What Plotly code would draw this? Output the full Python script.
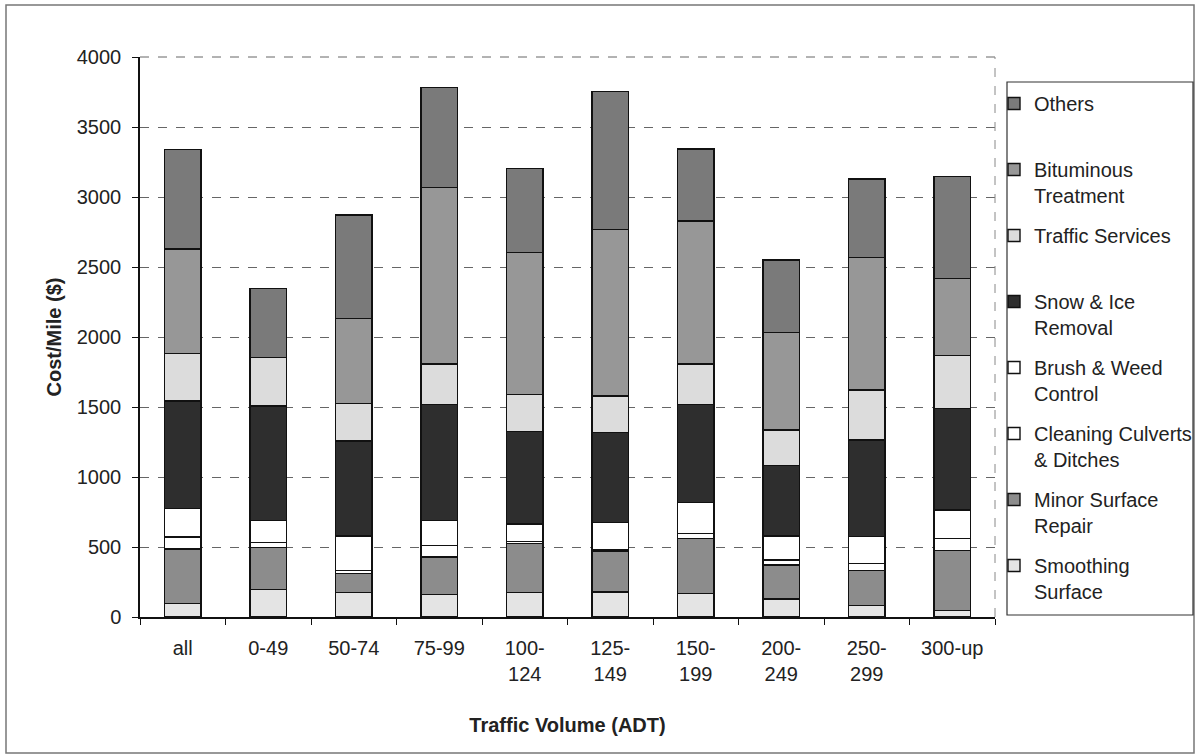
import plotly.graph_objects as go

# Traffic volume groups (ADT) and their axis labels
categories = ["all", "0-49", "50-74", "75-99", "100-124", "125-149",
              "150-199", "200-249", "250-299", "300-up"]
tick_labels = ["all", "0-49", "50-74", "75-99", "100-<br>124", "125-<br>149",
               "150-<br>199", "200-<br>249", "250-<br>299", "300-up"]

# Maintenance cost per mile ($) by activity, stacked bottom to top
smoothing_surface = [98, 198, 174, 162, 174, 179, 169, 129, 81, 45]
minor_surface_repair = [388, 297, 138, 267, 350, 292, 391, 242, 250, 429]
cleaning_culverts = [85, 38, 19, 81, 14, 12, 38, 36, 52, 88]
brush_weed_control = [205, 158, 248, 181, 126, 193, 219, 172, 191, 202]
snow_ice_removal = [767, 816, 678, 828, 660, 643, 702, 502, 690, 726]
traffic_services = [340, 345, 269, 288, 267, 260, 288, 255, 357, 377]
bituminous_treatment = [746, 0, 607, 1260, 1014, 1190, 1022, 698, 948, 552]
others = [712, 496, 738, 714, 600, 983, 514, 516, 560, 726]

series = [
    ("Smoothing<br>Surface", smoothing_surface, "#e4e4e4"),
    ("Minor Surface<br>Repair", minor_surface_repair, "#8c8c8c"),
    ("Cleaning Culverts<br>& Ditches", cleaning_culverts, "#ffffff"),
    ("Brush & Weed<br>Control", brush_weed_control, "#ffffff"),
    ("Snow & Ice<br>Removal", snow_ice_removal, "#2e2e2e"),
    ("Traffic Services<br>\u00a0", traffic_services, "#dcdcdc"),
    ("Bituminous<br>Treatment", bituminous_treatment, "#979797"),
    ("Others<br>\u00a0", others, "#7a7a7a"),
]

FONT = "Liberation Sans, Arial, sans-serif"
FS = 20

fig = go.Figure()
n = len(series)
for i, (name, values, color) in enumerate(series):
    fig.add_trace(go.Bar(
        x=categories, y=values, name=name,
        legendgroup=f"g{i}",
        legendrank=(n - i) * 10,  # top of the stack listed first
        marker=dict(color=color, line=dict(color="#111111", width=1.4)),
    ))

W, H = 1196, 756
L, R, T, B = 140, 201, 57, 139


def px(x):
    return (x - L) / (W - L - R)


def py(y):
    return (H - B - y) / (H - T - B)


fig.update_layout(
    width=W, height=H,
    margin=dict(l=L, r=R, t=T, b=B, autoexpand=False),
    barmode="stack",
    bargap=0.57,
    paper_bgcolor="white",
    plot_bgcolor="white",
    font=dict(family=FONT, size=FS, color="#222222"),
    showlegend=True,
    legend=dict(
        traceorder="grouped",
        x=px(994), xanchor="left",
        y=py(84), yanchor="top",
        bgcolor="rgba(0,0,0,0)",
        borderwidth=0,
        valign="top",
        tracegroupgap=11,
        font=dict(family=FONT, size=FS, color="#222222"),
    ),
    xaxis=dict(
        tickmode="array", tickvals=categories, ticktext=tick_labels,
        showline=True, linecolor="#111111", linewidth=1.5,
        ticks="outside", tickson="boundaries", ticklen=6, tickcolor="#111111",
        ticklabelstandoff=12,
        showgrid=False,
        title=dict(text="<b>Traffic Volume (ADT)</b>", standoff=34,
                   font=dict(family=FONT, size=FS, color="#222222")),
    ),
    yaxis=dict(
        range=[0, 4000], dtick=500,
        showline=True, linecolor="#111111", linewidth=1.5,
        ticks="outside", ticklen=6, tickcolor="#111111",
        ticklabelstandoff=7,
        showgrid=True, gridcolor="#666666", griddash="dash", gridwidth=1,
        zeroline=False,
        title=dict(text="<b>Cost/Mile ($)</b>", standoff=10,
                   font=dict(family=FONT, size=FS, color="#222222")),
    ),
    shapes=[
        # outer frame of the chart
        dict(type="rect", xref="paper", yref="paper",
             x0=px(6), x1=px(1194), y0=py(753), y1=py(5),
             line=dict(color="#777777", width=1.5), fillcolor="rgba(0,0,0,0)",
             layer="below"),
        # top and right edges of the plot area
        dict(type="line", xref="paper", yref="paper",
             x0=0, x1=1, y0=1, y1=1,
             line=dict(color="#666666", width=1, dash="dash")),
        dict(type="line", xref="paper", yref="paper",
             x0=1, x1=1, y0=0, y1=1,
             line=dict(color="#888888", width=1, dash="dash")),
        # legend box
        dict(type="rect", xref="paper", yref="paper",
             x0=px(1007), x1=px(1193), y0=py(615), y1=py(82),
             line=dict(color="#333333", width=1.2), fillcolor="rgba(0,0,0,0)"),
    ],
)

fig.write_html("out.html")
